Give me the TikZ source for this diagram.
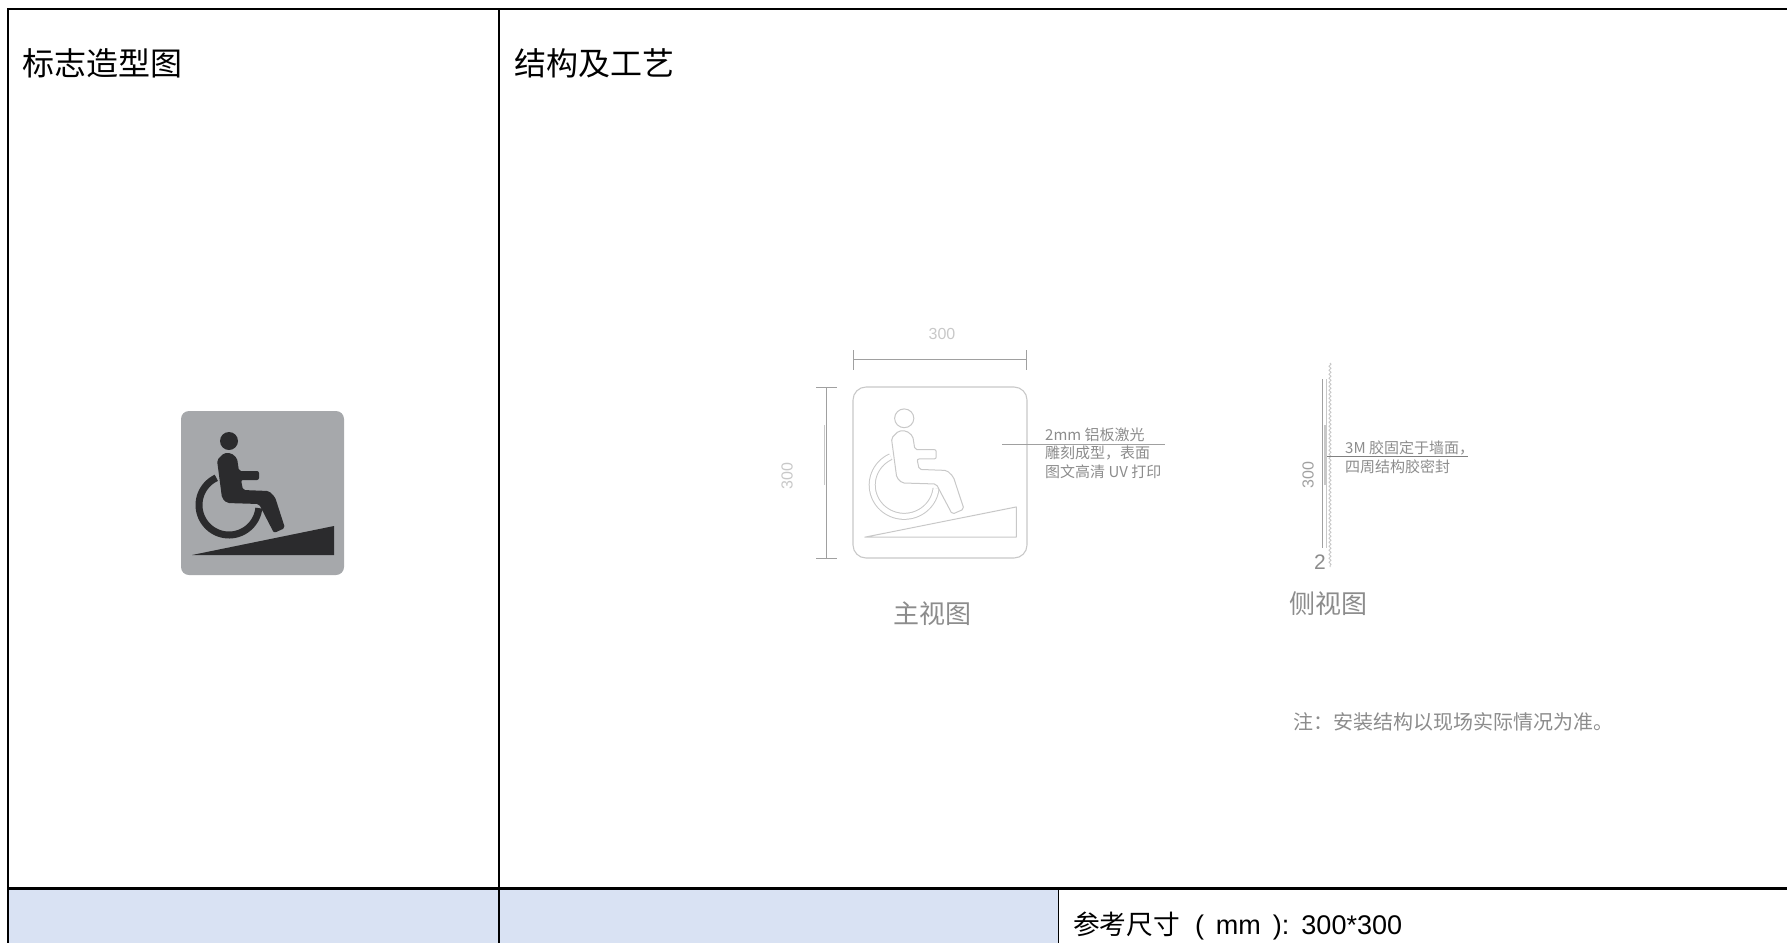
\documentclass[tikz,border=0pt]{standalone}
\usepackage{fontspec}
\usepackage{xcolor}
\setmainfont{Liberation Sans}
\newfontfamily\cjk{Noto Sans CJK SC}
\usetikzlibrary{decorations.pathmorphing}
\definecolor{cellblue}{HTML}{D9E2F3}
\definecolor{signgray}{HTML}{A6A8AB}
\definecolor{signdark}{HTML}{2B2B2D}
\definecolor{linegray}{HTML}{C8C8C8}
\definecolor{dimgray}{HTML}{A0A0A0}
\definecolor{textgray}{HTML}{8C8C8C}
\tikzstyle{titletext}=[anchor=west, inner sep=0, text=black, font=\cjk\fontsize{32}{38}\selectfont]
\tikzstyle{viewtext}=[inner sep=0, text=textgray, font=\cjk\fontsize{26}{30}\selectfont]
\tikzstyle{leadtext}=[anchor=west, inner sep=0, align=left, text=textgray, font=\cjk\fontsize{15}{18.4}\selectfont]
\tikzstyle{dimtext}=[inner sep=0, text=linegray, font=\fontsize{16}{18}\selectfont]
\tikzstyle{dimline}=[draw=dimgray, line width=1pt]
\tikzstyle{grid}=[draw=black, line width=2pt]
\tikzstyle{bodyfill}=[fill=signdark]
\tikzstyle{wheelfill}=[draw=signdark, line width=7pt]
\tikzstyle{bodyline}=[draw=linegray, line width=1pt, fill=white, line join=round]
\tikzstyle{wheelline}=[draw=linegray, line width=1pt, double=white, double distance=5pt]
\tikzset{
	pics/wheelicon/.style 2 args={code={
		\draw[#2] plot[domain=115:354, samples=50] ({48+30*cos(\x)},{94-30*sin(\x)});
		\path[#1] (48,30) circle (9);
		\path[#1, rounded corners=2pt] (43,42) -- (36,49) -- (41,87) -- (46,92) -- (78,93) -- (93,122) -- (104,117) -- (94,86) -- (88,80) -- (62,79) -- (60,69) -- (78,69) -- (78,60) -- (58,60) -- (56,47) -- (50,42) -- cycle;
		\path[#1] (11,144) -- (153,115) -- (153,144) -- cycle;
	}}
}
\begin{document}
\begin{tikzpicture}[x=1pt, y=-1pt]
	\useasboundingbox (0,0) rectangle (1787,943);
	% table
	\fill[cellblue] (8,889) rectangle (1058,943);
	\draw[grid] (1787,9) -- (8,9) -- (8,943);
	\draw[grid] (499,9) -- (499,943);
	\draw[grid, line width=2.6pt] (8,888.5) -- (1787,888.5);
	\draw[black, line width=1pt] (1058,889) -- (1058,943);
	\node[titletext] (signtitle) at (22,63) {标志造型图};
	\node[titletext] (buildtitle) at (514,63) {结构及工艺};
	\node[anchor=west, inner sep=0, font=\fontsize{27}{30}\selectfont] (sizetext) at (1073,926) {{\cjk\fontsize{26.7}{30}\selectfont 参考尺寸}\kern15pt(\kern12ptmm\kern12pt):\kern12pt300*300};
	% sign
	\fill[signgray] (181,411) [rounded corners=8pt] rectangle (344,575);
	\pic[shift={(181,411)}] {wheelicon={bodyfill}{wheelfill}};
	% front view
	\draw[linegray, line width=1.1pt, rounded corners=13pt] (853,387) rectangle (1027,558);
	\pic[shift={(853,387)}, xscale=1.067, yscale=1.043] {wheelicon={bodyline}{wheelline}};
	\draw[dimline] (853,359) -- (1026,359);
	\draw[dimline] (853,350) -- (853,370);
	\draw[dimline] (1026,350) -- (1026,370);
	\draw[dimline] (826,387) -- (826,558);
	\draw[dimline] (816,387) -- (837,387);
	\draw[dimline] (816,558) -- (837,558);
	\draw[linegray, line width=1pt] (824,425) -- (824,485);
	\draw[dimline] (1002,444) -- (1165,444);
	\node[dimtext] (frontwidth) at (942,334) {300};
	\node[dimtext, rotate=90] (frontheight) at (787,476) {300};
	\node[leadtext] (fronttext) at (1045,453) {2mm 铝板激光\\雕刻成型，表面\\图文高清 UV 打印};
	\node[viewtext] (frontname) at (932,614) {主视图};
	% side view
	\draw[dimline] (1322,379) -- (1322,548);
	\draw[linegray, line width=1pt] (1326,379) -- (1326,548);
	\draw[linegray, line width=1pt, decorate, decoration={snake, amplitude=1pt, segment length=4pt}] (1330,363) -- (1330,567);
	\draw[linegray, line width=3pt] (1325,425) -- (1325,485);
	\draw[draw=dimgray!80!black, line width=1pt] (1327,456) -- (1468,456);
	\node[leadtext] (sidetexta) at (1345,448) {3M 胶固定于墙面，};
	\node[leadtext] (sidetextb) at (1345,467) {四周结构胶密封};
	\node[dimtext, text=dimgray, rotate=90] (sideheight) at (1308,475) {300};
	\node[dimtext, text=textgray, font=\fontsize{21}{24}\selectfont] (sidedepth) at (1320,562) {2};
	\node[viewtext] (sidename) at (1328,604) {侧视图};
	% note
	\node[leadtext, font=\cjk\fontsize{20}{24}\selectfont] (note) at (1293,722) {注：安装结构以现场实际情况为准。};
\end{tikzpicture}
\end{document}
